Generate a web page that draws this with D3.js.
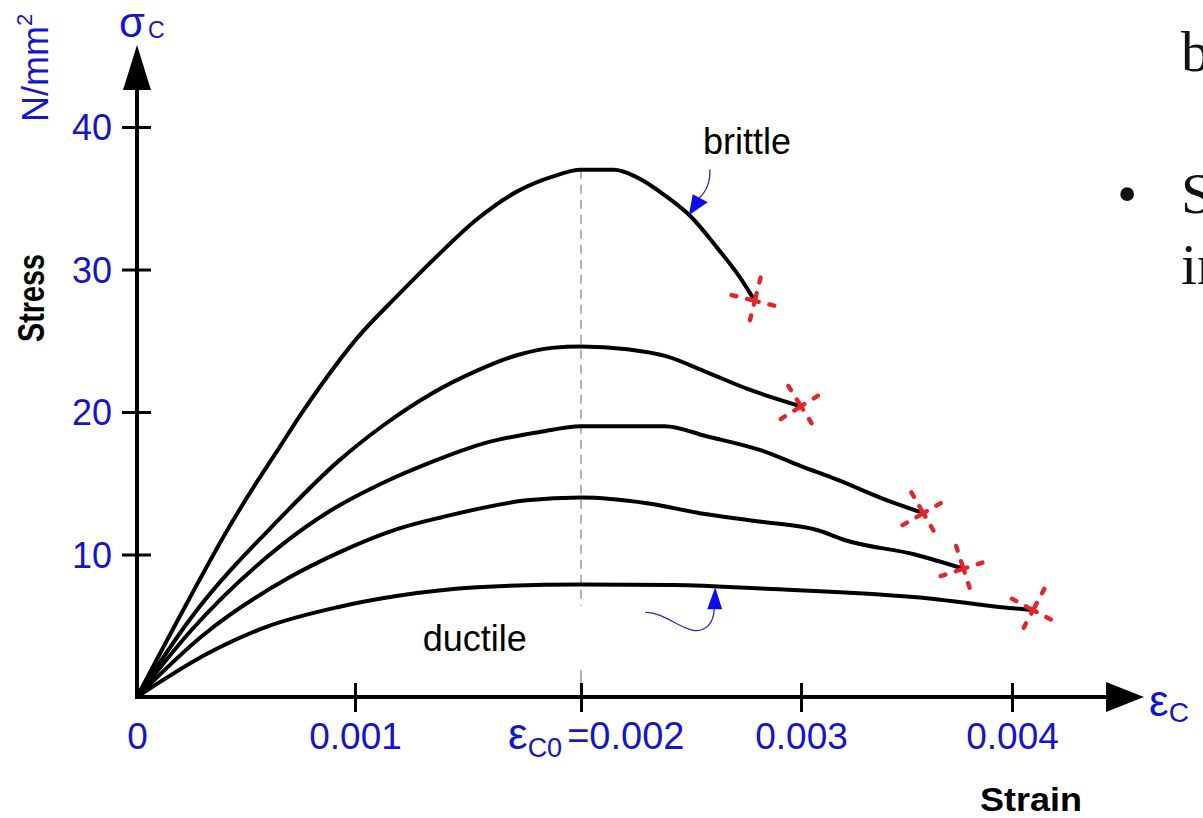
<!DOCTYPE html>
<html>
<head>
  <meta charset="utf-8">
  <title>Concrete stress-strain</title>
  <script src="https://d3js.org/d3.v7.min.js"></script>
  <style>
  body { margin: 0; background: #fff; }
  svg text { font-family: "Liberation Sans", Arial, sans-serif; }
  </style>
</head>
<body>
<div id="chart"></div>

<script type="text/javascript">
// axis ticks
var strainTicks = [0, 0.001, 0.002, 0.003, 0.004];
var strainTickLabels = ["0", "0.001", "", "0.003", "0.004"];
var stressTicks = [10, 20, 30, 40];
var peakStrain = 0.002;

// curves: [strain, stress N/mm2]
var curve37 = [[0,0],[0.00024,6.9],[0.00041,11.6],[0.00055,15.1],[0.00064,17.2],[0.00075,19.8],
  [0.00085,22.0],[0.00101,25.2],[0.00119,28.2],[0.00129,29.8],[0.00138,31.2],[0.00153,33.4],
  [0.00172,35.5],[0.00187,36.5],[0.002,37.0],[0.00215,37.0],[0.00225,36.5],[0.00239,35.1],
  [0.0025,33.7],[0.00262,31.5],[0.00272,29.5],[0.00279,27.8]];
var curve25 = [[0,0],[0.00025,5.6],[0.00066,12.6],[0.00092,16.5],[0.00112,19.0],[0.00134,21.3],
  [0.00154,22.9],[0.00172,24.0],[0.00187,24.5],[0.002,24.6],[0.00221,24.4],[0.00239,23.9],
  [0.00257,22.8],[0.00276,21.6],[0.003,20.4]];
var curve19 = [[0,0],[0.00025,4.7],[0.00065,10.5],[0.00089,13.1],[0.00112,15.0],[0.00134,16.5],
  [0.00157,17.8],[0.00182,18.6],[0.002,19.0],[0.00238,19.0],[0.00257,18.3],[0.00282,17.3],
  [0.003,16.2],[0.00318,15.2],[0.00339,13.9],[0.00358,12.9]];
var curve14 = [[0,0],[0.0003,4.3],[0.0007,8.4],[0.00092,10.1],[0.00119,11.8],[0.00138,12.6],
  [0.00176,13.8],[0.002,14.0],[0.0023,13.6],[0.00254,12.9],[0.00282,12.3],[0.00308,11.7],
  [0.00321,11.0],[0.00354,10.0],[0.00377,9.0]];
var curve8 = [[0,0],[0.00033,3.1],[0.00059,4.9],[0.00092,6.3],[0.00119,7.1],[0.00154,7.7],
  [0.002,7.9],[0.00242,7.86],[0.00284,7.6],[0.00362,6.9],[0.00395,6.3],[0.0041,6.1]];
var curves = [curve37, curve25, curve19, curve14, curve8];
// tilt of each red failure cross (degrees)
var crossTilt = [14, -32, -30, -18, 28];

var W = 1203, H = 818;
var BLUE = "#1515cc";

var svg = d3.select("#chart").append("svg")
  .attr("width", W)
  .attr("height", H);

// the drawn strain axis is not quite even, so map tick by tick
var x = d3.scaleLinear().domain(strainTicks).range([137, 355, 581, 801, 1012]);
var y = d3.scaleLinear().domain([0, 40]).range([697, 127]);

// dashed line at peak strain
svg.append("line")
  .attr("x1", x(peakStrain)).attr("x2", x(peakStrain))
  .attr("y1", y(37)).attr("y2", y(6.4))
  .attr("stroke", "#9a9a9a").attr("stroke-width", 1.5)
  .attr("stroke-dasharray", "9,6");
svg.append("line")
  .attr("x1", x(peakStrain)).attr("x2", x(peakStrain))
  .attr("y1", y(1.9)).attr("y2", y(1))
  .attr("stroke", "#9a9a9a").attr("stroke-width", 1.5);

// axes
var xAxis = svg.append("g")
  .attr("transform", "translate(0," + y(0) + ")")
  .call(d3.axisBottom(x).tickValues(strainTicks)
    .tickFormat(function(d, i) { return strainTickLabels[i]; }));
xAxis.select(".domain").remove();
xAxis.selectAll(".tick line").attr("y1", -14).attr("y2", 15)
  .attr("stroke", "#000").attr("stroke-width", 3);
xAxis.selectAll(".tick").filter(function(d) { return d === 0; }).select("line").remove();
xAxis.selectAll(".tick text").attr("y", 52).attr("dy", 0)
  .attr("fill", BLUE).attr("font-size", 37)
  .style("font-family", "'Liberation Sans', Arial, sans-serif");

var yAxis = svg.append("g")
  .attr("transform", "translate(" + x(0) + ",0)")
  .call(d3.axisLeft(y).tickValues(stressTicks));
yAxis.select(".domain").remove();
yAxis.selectAll(".tick line").attr("x1", -15).attr("x2", 14)
  .attr("stroke", "#000").attr("stroke-width", 3);
yAxis.selectAll(".tick text").attr("x", -25).attr("dy", "0.36em")
  .attr("fill", BLUE).attr("font-size", 36)
  .style("font-family", "'Liberation Sans', Arial, sans-serif");

// peak strain label
var eLab = svg.append("text")
  .attr("x", x(peakStrain) - 73).attr("y", y(0) + 52)
  .attr("fill", BLUE);
eLab.append("tspan").attr("font-size", 44).text("ε");
eLab.append("tspan").attr("font-size", 27).attr("dy", 8).text("C0");
eLab.append("tspan").attr("font-size", 38).attr("dy", -8).attr("dx", 5).text("=0.002");

// axis lines with arrowheads
svg.append("line")
  .attr("x1", x(0)).attr("x2", 1110)
  .attr("y1", y(0)).attr("y2", y(0))
  .attr("stroke", "#000").attr("stroke-width", 4);
svg.append("path")
  .attr("d", "M1106," + (y(0) - 15) + "L1144," + y(0) + "L1106," + (y(0) + 15) + "Z")
  .attr("fill", "#000");
svg.append("line")
  .attr("x1", x(0)).attr("x2", x(0))
  .attr("y1", y(0) + 2).attr("y2", 88)
  .attr("stroke", "#000").attr("stroke-width", 4);
svg.append("path")
  .attr("d", "M" + (x(0) - 14) + ",90L" + x(0) + ",45L" + (x(0) + 14) + ",90Z")
  .attr("fill", "#000");

// axis symbols
var sig = svg.append("text").attr("x", 119).attr("y", 37).attr("fill", BLUE);
sig.append("tspan").attr("font-size", 42).text("σ");
sig.append("tspan").attr("font-size", 23).attr("dy", 1).attr("dx", 3).text("C");

var eps = svg.append("text").attr("x", 1149).attr("y", 716).attr("fill", BLUE);
eps.append("tspan").attr("font-size", 44).text("ε");
eps.append("tspan").attr("font-size", 28).attr("dy", 6).text("C");

var unit = svg.append("text")
  .attr("transform", "translate(48,122) rotate(-90)")
  .attr("fill", BLUE).attr("font-size", 36);
unit.append("tspan").text("N/mm");
unit.append("tspan").attr("font-size", 22).attr("dy", -16).text("2");

svg.append("text")
  .attr("transform", "translate(44,298) rotate(-90)")
  .attr("text-anchor", "middle")
  .attr("font-size", 36).attr("font-weight", "bold")
  .attr("textLength", 88).attr("lengthAdjust", "spacingAndGlyphs")
  .text("Stress");

svg.append("text")
  .attr("x", 1031).attr("y", 811)
  .attr("text-anchor", "middle")
  .attr("font-size", 33).attr("font-weight", "bold")
  .attr("textLength", 102).attr("lengthAdjust", "spacingAndGlyphs")
  .text("Strain");

// curves
var line = d3.line()
  .x(function(d) { return x(d[0]); })
  .y(function(d) { return y(d[1]); })
  .curve(d3.curveMonotoneX);

svg.selectAll("path.curve")
  .data(curves)
  .enter().append("path")
  .attr("class", "curve")
  .attr("d", line)
  .attr("fill", "none")
  .attr("stroke", "#000")
  .attr("stroke-width", 4)
  .attr("stroke-linejoin", "round");

// failure crosses at curve ends
var cross = svg.selectAll("g.cross")
  .data(curves)
  .enter().append("g")
  .attr("class", "cross")
  .attr("transform", function(d, i) {
    var e = d[d.length - 1];
    return "translate(" + x(e[0]) + "," + y(e[1]) + ") rotate(" + crossTilt[i] + ")";
  });
[[-24, 0, 24, 0], [0, -24, 0, 24]].forEach(function(s) {
  cross.append("line")
    .attr("x1", s[0]).attr("y1", s[1]).attr("x2", s[2]).attr("y2", s[3])
    .attr("stroke", "#e3262b").attr("stroke-width", 4.4)
    .attr("stroke-linecap", "round")
    .attr("stroke-dasharray", "5,11,12,11,5");
});

// annotations
svg.append("text")
  .attr("x", x(0.002554)).attr("y", y(38.1))
  .attr("font-size", 36).attr("fill", "#000")
  .text("brittle");
svg.append("text")
  .attr("x", x(0.0013)).attr("y", y(3.23))
  .attr("font-size", 36).attr("fill", "#000")
  .text("ductile");

var bt = [x(0.00249), y(33.8)];
svg.append("path")
  .attr("d", "M" + (bt[0] + 10) + "," + (bt[1] - 17) + "Q" + (bt[0] + 22) + "," + (bt[1] - 28) +
    " " + (bt[0] + 21) + "," + (bt[1] - 46))
  .attr("fill", "none").attr("stroke", "#2b2bb8").attr("stroke-width", 1.3);
svg.append("path")
  .attr("d", "M" + bt[0] + "," + bt[1] + "L" + (bt[0] + 4) + "," + (bt[1] - 21) +
    "L" + (bt[0] + 19) + "," + (bt[1] - 13) + "Z")
  .attr("fill", "#0c0cf0");

var dt = [x(0.00261), y(7.7)];
svg.append("path")
  .attr("d", "M" + (dt[0] - 1) + "," + (dt[1] + 21) +
    "C" + (dt[0] - 1) + "," + (dt[1] + 36) + " " + (dt[0] - 10) + "," + (dt[1] + 45) + " " + (dt[0] - 22) + "," + (dt[1] + 43) +
    "C" + (dt[0] - 36) + "," + (dt[1] + 41) + " " + (dt[0] - 52) + "," + (dt[1] + 25) + " " + (dt[0] - 70) + "," + (dt[1] + 25))
  .attr("fill", "none").attr("stroke", "#2b2bb8").attr("stroke-width", 1.3);
svg.append("path")
  .attr("d", "M" + dt[0] + "," + dt[1] + "L" + (dt[0] - 8) + "," + (dt[1] + 22) +
    "L" + (dt[0] + 7) + "," + (dt[1] + 22) + "Z")
  .attr("fill", "#0c0cf0");

// slide text cut off at the right edge, as in the source picture
var serif = "'Liberation Serif', 'Times New Roman', serif";
svg.append("text").attr("x", 1181).attr("y", 71).attr("font-size", 58)
  .style("font-family", serif).attr("fill", "#111").text("b");
svg.append("text").attr("x", 1117).attr("y", 213).attr("font-size", 58)
  .style("font-family", serif).attr("fill", "#111").text("•");
svg.append("text").attr("x", 1181).attr("y", 213).attr("font-size", 58)
  .style("font-family", serif).attr("fill", "#111").text("S");
svg.append("text").attr("x", 1181).attr("y", 284).attr("font-size", 58)
  .style("font-family", serif).attr("fill", "#111").text("in");
</script>
</body>
</html>
